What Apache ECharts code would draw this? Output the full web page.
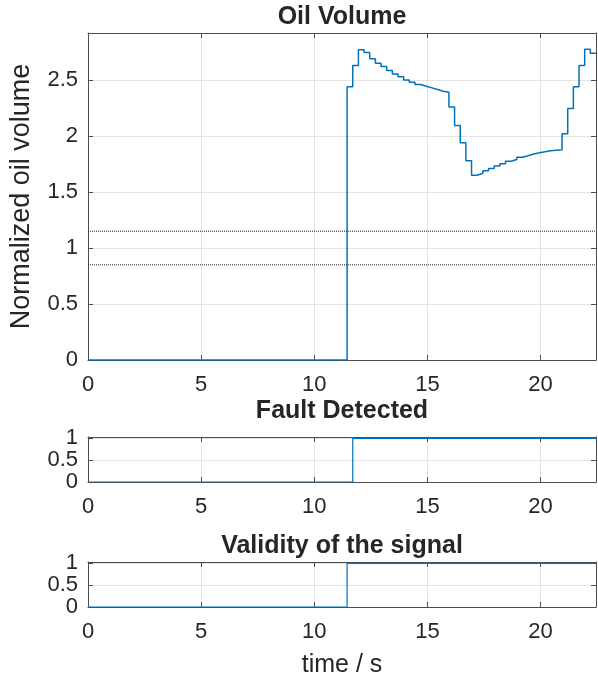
<!DOCTYPE html>
<html>
<head>
<meta charset="utf-8">
<script src="https://cdn.jsdelivr.net/npm/echarts@6/dist/echarts.min.js"></script>
<style>
  html, body { margin: 0; padding: 0; background: #fff; }
  #main { width: 598px; height: 682px; }
</style>
</head>
<body>
<div id="main"></div>
<script>
// 油量数据 (stairs)
var oilTime = [0, 11.45, 11.70, 11.95, 12.20, 12.45, 12.70, 12.95, 13.20, 13.45, 13.70,
    13.95, 14.20, 14.45, 14.70, 14.95, 15.20, 15.45, 15.70, 15.95, 16.20,
    16.45, 16.70, 16.95, 17.20, 17.45, 17.70, 17.95, 18.20, 18.45, 18.70,
    18.95, 19.20, 19.45, 19.70, 19.95, 20.20, 20.45, 20.70, 20.95, 21.20,
    21.45, 21.70, 21.95, 22.20, 22.45];
var oilValue = [0, 2.44, 2.63, 2.77, 2.745, 2.69, 2.65, 2.62, 2.585, 2.555, 2.53,
    2.50, 2.48, 2.46, 2.445, 2.43, 2.415, 2.40, 2.39, 2.26, 2.095,
    1.94, 1.78, 1.65, 1.667, 1.69, 1.71, 1.732, 1.753, 1.774, 1.79,
    1.81, 1.824, 1.839, 1.851, 1.86, 1.869, 1.873, 1.877, 2.02, 2.245,
    2.44, 2.63, 2.775, 2.74, 2.74];
var faultTime = [0, 11.70, 22.45];
var faultValue = [0, 1, 1];
var validTime = [0, 11.45, 22.45];
var validValue = [0, 1, 1];
var thresholdHigh = 1.15;
var thresholdLow = 0.85;
var xMax = 22.45;

function pairs(xs, ys) {
    var out = [];
    for (var i = 0; i < xs.length; i++) {
        out.push([xs[i], ys[i]]);
    }
    return out;
}

var FONT = 'Liberation Sans';
var TXT = '#262626';
var AXC = '#4d4d4d';
var BLUE = '#0072BD';

var myChart = echarts.init(document.getElementById('main'));

var grids = [
    {left: 88, right: 2, top: 33, height: 327},
    {left: 88, right: 2, top: 437, height: 45},
    {left: 88, right: 2, top: 562, height: 45}
];
var yMax = [2.92, 1.03, 1.03];
var yInterval = [0.5, 0.5, 0.5];

var xAxes = [], yAxes = [];
for (var g = 0; g < 3; g++) {
    // 下方x轴
    xAxes.push({
        type: 'value', gridIndex: g, min: 0, max: xMax, interval: 5, position: 'bottom',
        name: g == 2 ? 'time / s' : '', nameLocation: 'middle', nameGap: 46,
        nameTextStyle: {fontFamily: FONT, fontSize: 25, color: TXT},
        axisLine: {show: true, onZero: false, lineStyle: {color: AXC, width: 1}},
        axisTick: {show: true, inside: true, length: 5, lineStyle: {color: AXC}},
        axisLabel: {fontFamily: FONT, fontSize: 22, color: TXT, margin: 14,
            showMinLabel: true, showMaxLabel: false, hideOverlap: false},
        splitLine: {show: true, lineStyle: {color: '#e3e3e3', width: 1}}
    });
    // 上方边框
    xAxes.push({
        type: 'value', gridIndex: g, min: 0, max: xMax, interval: 5, position: 'top',
        axisLine: {show: true, onZero: false, lineStyle: {color: AXC, width: 1}},
        axisTick: {show: true, inside: true, length: 5, lineStyle: {color: AXC}},
        axisLabel: {show: false},
        splitLine: {show: false}
    });
    yAxes.push({
        type: 'value', gridIndex: g, min: 0, max: yMax[g], interval: yInterval[g], position: 'left',
        name: g == 0 ? 'Normalized oil volume' : '', nameLocation: 'middle', nameGap: 53,
        nameTextStyle: {fontFamily: FONT, fontSize: 27, color: TXT},
        axisLine: {show: true, onZero: false, lineStyle: {color: AXC, width: 1}},
        axisTick: {show: true, inside: true, length: 5, lineStyle: {color: AXC}},
        axisLabel: {fontFamily: FONT, fontSize: 22, color: TXT, margin: 10,
            showMinLabel: true, showMaxLabel: false, hideOverlap: false,
            lineHeight: g == 0 ? 22 : 12},
        splitLine: {show: true, lineStyle: {color: '#e3e3e3', width: 1}}
    });
    yAxes.push({
        type: 'value', gridIndex: g, min: 0, max: yMax[g], interval: yInterval[g], position: 'right',
        axisLine: {show: true, onZero: false, lineStyle: {color: AXC, width: 1}},
        axisTick: {show: true, inside: true, length: 5, lineStyle: {color: AXC}},
        axisLabel: {show: false},
        splitLine: {show: false}
    });
}

var titleStyle = {fontFamily: FONT, fontSize: 25, fontWeight: 'bold', color: TXT};
var option = {
    animation: false,
    backgroundColor: '#fff',
    title: [
        {text: 'Oil Volume', left: 342, top: 5, textAlign: 'center', textStyle: titleStyle, padding: 0},
        {text: 'Fault Detected', left: 342, top: 399, textAlign: 'center', textStyle: titleStyle, padding: 0},
        {text: 'Validity of the signal', left: 342, top: 534, textAlign: 'center', textStyle: titleStyle, padding: 0}
    ],
    grid: grids,
    xAxis: xAxes,
    yAxis: yAxes,
    series: [{
        type: 'line', name: 'oil', xAxisIndex: 0, yAxisIndex: 0, step: 'end', showSymbol: false,
        data: pairs(oilTime, oilValue),
        lineStyle: {color: BLUE, width: 1.5}, z: 5
    }, {
        type: 'line', name: 'high', xAxisIndex: 0, yAxisIndex: 0, showSymbol: false,
        data: [[0, thresholdHigh], [xMax, thresholdHigh]],
        lineStyle: {color: '#222', width: 1, type: [1, 1]}
    }, {
        type: 'line', name: 'low', xAxisIndex: 0, yAxisIndex: 0, showSymbol: false,
        data: [[0, thresholdLow], [xMax, thresholdLow]],
        lineStyle: {color: '#222', width: 1, type: [1, 1]}
    }, {
        type: 'line', name: 'fault', xAxisIndex: 2, yAxisIndex: 2, step: 'end', showSymbol: false,
        data: pairs(faultTime, faultValue),
        lineStyle: {color: BLUE, width: 1.2}, z: 5
    }, {
        type: 'line', name: 'valid', xAxisIndex: 4, yAxisIndex: 4, step: 'end', showSymbol: false,
        data: pairs(validTime, validValue),
        lineStyle: {color: BLUE, width: 1.2}, z: 5
    }]
};
myChart.setOption(option);
</script>
</body>
</html>
